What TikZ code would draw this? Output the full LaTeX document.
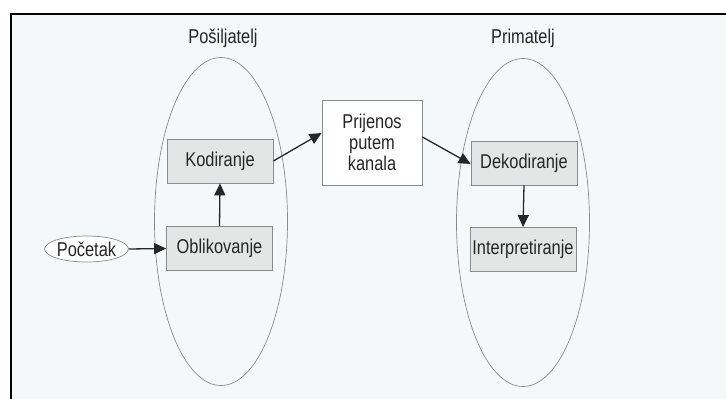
\documentclass[tikz,border=0pt]{standalone}
\usepackage{fontspec}
\setmainfont{Liberation Sans}[FakeStretch=0.82]
\usetikzlibrary{shapes.geometric,arrows.meta}
\definecolor{bgc}{HTML}{F5F8F8}
\definecolor{boxfill}{HTML}{E4E6E6}
\definecolor{edge}{HTML}{8A8C8C}
\definecolor{ink}{HTML}{262626}
\tikzset{
  every node/.style={font=\fontsize{20}{22}\selectfont, text=ink},
  stage/.style={draw=edge, line width=0.8pt, fill=boxfill, minimum width=106pt, minimum height=44pt, inner sep=0pt},
  chan/.style={draw=edge, line width=0.8pt, fill=white, minimum width=100pt, minimum height=85pt, inner sep=0pt, align=center},
  party/.style={ellipse, draw=edge, line width=0.7pt, minimum width=133pt, minimum height=328pt, inner sep=0pt},
  startnode/.style={ellipse, draw=edge, line width=0.7pt, fill=white, minimum width=77pt, minimum height=26pt, inner sep=0pt},
  flow/.style={draw=ink, line width=1.3pt, -{Triangle[length=12pt,width=11pt]}},
}
\begin{document}
\begin{tikzpicture}[x=1pt,y=-1pt]
\useasboundingbox (0,0) rectangle (726,399);
\fill[white] (0,0) rectangle (726,399);
\fill[bgc] (11,14) rectangle (726,399);
\draw[black, line width=1.4pt] (11,399) -- (11,14) -- (726,14);

\node (lpos) at (223,38) {Pošiljatelj};
\node (lprim) at (523,38) {Primatelj};

\node[party] (sender) at (221,221.5) {};
\node[party] (receiver) at (523,222.5) {};

\node[stage] (kod) at (220,161) {Kodiranje};
\node[stage] (obl) at (219.5,248.5) {Oblikovanje};
\node[startnode] (poc) at (86.5,249) {Početak};
\node[chan] (pri) at (372,142.5) {Prijenos\\[-1pt]putem\\[-1pt]kanala};
\node[stage] (dek) at (524,163) {Dekodiranje};
\node[stage] (int) at (523,249.5) {Interpretiranje};

\draw[flow] (poc.east) -- (obl.west);
\draw[flow] (obl.north) -- (kod.south);
\draw[flow] (kod.east) -- ([yshift=9.5pt]pri.west);
\draw[flow] ([yshift=5.5pt]pri.east) -- ([yshift=-1pt]dek.west);
\draw[flow] (dek.south) -- (int.north);
\end{tikzpicture}
\end{document}
